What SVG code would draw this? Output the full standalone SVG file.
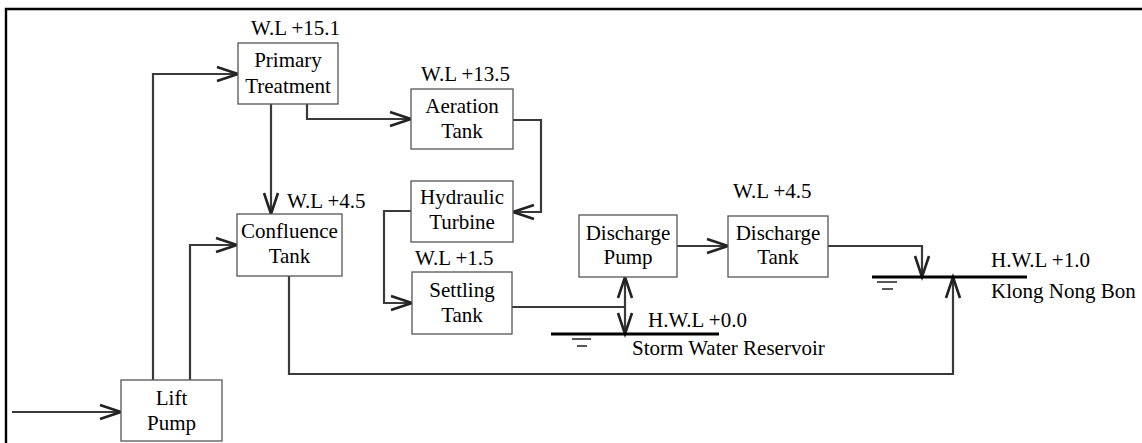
<svg xmlns="http://www.w3.org/2000/svg" width="1142" height="443" viewBox="0 0 1142 443">
<style>
.box{fill:#fff;stroke:#555;stroke-width:1.3}
.t{font-family:'Liberation Serif','Times New Roman','DejaVu Serif',serif;font-size:21px;fill:#000}
.c{text-anchor:middle}
.ln{fill:none;stroke:#3a3a3a;stroke-width:2.2}
.lvl{fill:none;stroke:#000;stroke-width:3}
.gnd{fill:none;stroke:#222;stroke-width:1.5}
</style>
<defs>
<marker id="ah" markerUnits="userSpaceOnUse" markerWidth="24" markerHeight="18" refX="21" refY="8" orient="auto-start-reverse" overflow="visible">
<path d="M0,1 L21,8 L0,15" fill="none" stroke="#222" stroke-width="2.6"/>
</marker>
</defs>
<rect width="1142" height="443" fill="#fff"/>
<g id="frame">
<path d="M6,443 V9 H1142" fill="none" stroke="#000" stroke-width="2.4"/>
</g>
<g id="connectors">
<path class="ln" d="M12,412 H121" marker-end="url(#ah)"/>
<path class="ln" d="M153,380 V74 H238" marker-end="url(#ah)"/>
<path class="ln" d="M190,380 V245 H237" marker-end="url(#ah)"/>
<path class="ln" d="M271,104 V214" marker-end="url(#ah)"/>
<path class="ln" d="M307,104 V119 H411" marker-end="url(#ah)"/>
<path class="ln" d="M513,120 H541 V212 H513" marker-end="url(#ah)"/>
<path class="ln" d="M411,211 H384 V303 H412" marker-end="url(#ah)"/>
<path class="ln" d="M512,307 H625"/>
<path class="ln" d="M625,334 V277" marker-start="url(#ah)" marker-end="url(#ah)"/>
<path class="ln" d="M677,246 H728" marker-end="url(#ah)"/>
<path class="ln" d="M828,246 H922 V277" marker-end="url(#ah)"/>
<path class="ln" d="M289,276 V374 H953 V277" marker-end="url(#ah)"/>
</g>
<g id="primary-treatment">
<rect class="box" x="238" y="43" width="100" height="61"/>
<text class="t c" x="288" y="67">Primary</text>
<text class="t c" x="288" y="93">Treatment</text>
<text class="t" x="251" y="35">W.L +15.1</text>
</g>
<g id="aeration-tank">
<rect class="box" x="411" y="89" width="102" height="60"/>
<text class="t c" x="462" y="113">Aeration</text>
<text class="t c" x="462" y="138">Tank</text>
<text class="t" x="421" y="81">W.L +13.5</text>
</g>
<g id="hydraulic-turbine">
<rect class="box" x="411" y="181" width="102" height="61"/>
<text class="t c" x="462" y="204">Hydraulic</text>
<text class="t c" x="462" y="229">Turbine</text>
</g>
<g id="confluence-tank">
<rect class="box" x="237" y="214" width="105" height="62"/>
<text class="t c" x="289.5" y="238">Confluence</text>
<text class="t c" x="289.5" y="263">Tank</text>
<text class="t" x="287" y="208">W.L +4.5</text>
</g>
<g id="settling-tank">
<rect class="box" x="412" y="272" width="100" height="62"/>
<text class="t c" x="462" y="297">Settling</text>
<text class="t c" x="462" y="322">Tank</text>
<text class="t" x="415" y="265">W.L +1.5</text>
</g>
<g id="discharge-pump">
<rect class="box" x="579" y="215" width="98" height="62"/>
<text class="t c" x="628" y="240">Discharge</text>
<text class="t c" x="628" y="264">Pump</text>
</g>
<g id="discharge-tank">
<rect class="box" x="728" y="216" width="100" height="61"/>
<text class="t c" x="778" y="240">Discharge</text>
<text class="t c" x="778" y="264">Tank</text>
<text class="t" x="733" y="198">W.L +4.5</text>
</g>
<g id="lift-pump">
<rect class="box" x="121" y="380" width="101" height="61"/>
<text class="t c" x="171.5" y="405">Lift</text>
<text class="t c" x="171.5" y="430">Pump</text>
</g>
<g id="storm-water-reservoir">
<path class="lvl" d="M551,334 H719"/>
<path class="gnd" d="M572,339 H591 M577,346 H587"/>
<text class="t" x="648" y="327">H.W.L +0.0</text>
<text class="t" x="632" y="355">Storm Water Reservoir</text>
</g>
<g id="klong-nong-bon">
<path class="lvl" d="M872,277 H1027"/>
<path class="gnd" d="M877,282 H897 M882,289 H893"/>
<text class="t" x="991" y="267">H.W.L +1.0</text>
<text class="t" x="991" y="298">Klong Nong Bon</text>
</g>
</svg>
